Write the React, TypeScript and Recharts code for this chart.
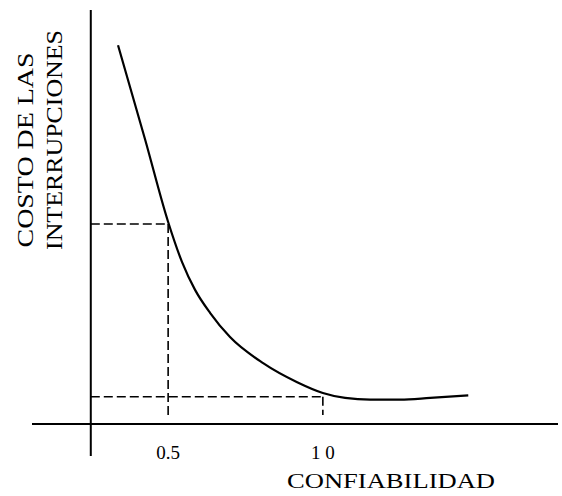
import { LineChart, Line, XAxis, YAxis, ReferenceLine, Customized } from 'recharts';

const confiabilidad = [0.338, 0.426, 0.5, 0.545, 0.587, 0.636, 0.7, 0.807, 0.917, 1.0, 1.072, 1.153, 1.25, 1.347, 1.47];
const costo = [91.5, 68.6, 48.8, 39.1, 32.4, 26.8, 21.0, 14.7, 10.1, 7.5, 6.3, 5.9, 5.9, 6.3, 6.9];

const xTicks = [0.5, 1.0];
const xTickLabels = ['0.5', '1 0'];

// dashed guides: reliability level -> cost level
const guideX = [0.5, 1.0];
const guideY = [48.3, 6.6];

const data = confiabilidad.map((c, i) => ({ confiabilidad: c, costo: costo[i] }));

const serif = "'Liberation Serif', 'Times New Roman', serif";

const XTick = (props: any) => {
  const { x, y, payload } = props;
  const idx = xTicks.indexOf(payload.value);
  return (
    <text x={x} y={y} dy={27} textAnchor="middle" fontFamily={serif} fontSize={19} fill="#000">
      {xTickLabels[idx]}
    </text>
  );
};

const Titles = () => (
  <g fontFamily={serif} fill="#000">
    <text x={391} y={488} textAnchor="middle" fontSize={22} textLength={208} lengthAdjust="spacingAndGlyphs">
      CONFIABILIDAD
    </text>
    <text transform="translate(33,150) rotate(-90)" textAnchor="middle" fontSize={23} textLength={195} lengthAdjust="spacingAndGlyphs">
      COSTO DE LAS
    </text>
    <text transform="translate(62,140) rotate(-90)" textAnchor="middle" fontSize={23} textLength={220} lengthAdjust="spacingAndGlyphs">
      INTERRUPCIONES
    </text>
  </g>
);

const dashed = { stroke: '#000', strokeWidth: 1.6, strokeDasharray: '9 4', ifOverflow: 'visible' as const };

export default function App() {
  return (
    <div style={{ position: 'absolute', left: 0, top: 0, background: '#fff' }}>
      <LineChart width={562} height={496} data={data} margin={{ top: 10, right: 4, bottom: 32, left: 32 }}>
        <XAxis
          type="number"
          dataKey="confiabilidad"
          domain={[0.06, 1.76]}
          allowDataOverflow
          ticks={xTicks}
          tickLine={false}
          tick={<XTick />}
          height={40}
          axisLine={{ stroke: '#000', strokeWidth: 2 }}
        />
        <YAxis type="number" domain={[0, 100]} allowDataOverflow hide />
        <ReferenceLine
          segment={[{ x: 0.25, y: 100 }, { x: 0.25, y: -7.7 }]}
          stroke="#000"
          strokeWidth={2}
          ifOverflow="visible"
        />
        <ReferenceLine segment={[{ x: 0.25, y: guideY[0] }, { x: guideX[0], y: guideY[0] }]} {...dashed} />
        <ReferenceLine segment={[{ x: guideX[0], y: guideY[0] }, { x: guideX[0], y: 2 }]} {...dashed} />
        <ReferenceLine segment={[{ x: 0.25, y: guideY[1] }, { x: guideX[1], y: guideY[1] }]} {...dashed} />
        <ReferenceLine segment={[{ x: guideX[1], y: guideY[1] }, { x: guideX[1], y: 2.2 }]} {...dashed} />
        <Line
          type="monotone"
          dataKey="costo"
          stroke="#000"
          strokeWidth={2.2}
          dot={false}
          isAnimationActive={false}
        />
        <Customized component={Titles} />
      </LineChart>
    </div>
  );
}
